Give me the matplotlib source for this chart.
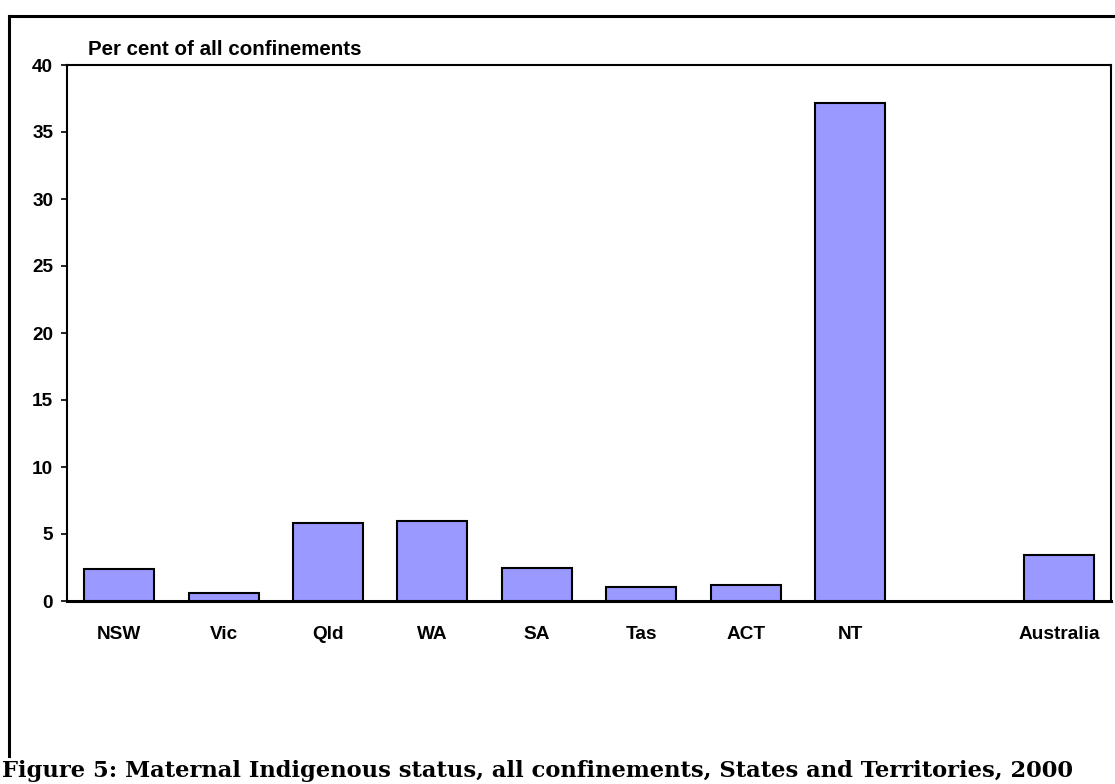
import matplotlib.pyplot as plt
import numpy as np

# Data (blank slot between NT and Australia)
states = ["NSW", "Vic", "Qld", "WA", "SA", "Tas", "ACT", "NT", "", "Australia"]
pct_indigenous = [2.4, 0.6, 5.8, 6.0, 2.5, 1.05, 1.2, 37.2, 0.0, 3.4]
y_ticks = [0, 5, 10, 15, 20, 25, 30, 35, 40]

W, H = 1115, 784
fig = plt.figure(figsize=(W / 100, H / 100), dpi=100)

# Axes placement in pixels
left, right, top, bottom = 67, 1111, 65, 601
ax = fig.add_axes([left / W, 1 - bottom / H, (right - left) / W, (bottom - top) / H])

x = np.arange(len(states))
mask = [bool(s) for s in states]
ax.bar(x[mask], np.array(pct_indigenous)[mask], width=0.67, color="#9999FF",
       edgecolor="black", linewidth=1.5, zorder=3)

ax.set_xlim(-0.5, len(states) - 0.5)
ax.set_ylim(0, 40)
ax.set_yticks(y_ticks)
ax.set_xticks(x)
ax.set_xticklabels(states)

for lab in ax.get_xticklabels() + ax.get_yticklabels():
    lab.set_fontfamily("Liberation Sans")
    lab.set_fontweight("bold")
    lab.set_fontsize(13.7)

ax.tick_params(axis="x", length=0, pad=18)
ax.tick_params(axis="y", length=4, width=1.2, direction="out", pad=6)
for side in ["left", "bottom", "top", "right"]:
    ax.spines[side].set_linewidth(1.5)
ax.spines["bottom"].set_linewidth(2.2)

# y-axis title placed above the axis
fig.text(88 / W, 1 - 55 / H, "Per cent of all confinements", fontfamily="Liberation Sans",
         fontweight="bold", fontsize=14.8, va="baseline", ha="left")

# outer frame (left and top edges)
fig.add_artist(plt.Line2D([9 / W, 9 / W], [1 - 16 / H, 1 - 756 / H], color="black", linewidth=2.2))
fig.add_artist(plt.Line2D([9 / W, 1.0], [1 - 16 / H, 1 - 16 / H], color="black", linewidth=2.2))

# caption
fig.text(2 / W, 1 - 777 / H, "Figure 5: Maternal Indigenous status, all confinements, States and Territories, 2000",
         fontfamily="DejaVu Serif", fontweight="bold", fontsize=16.3, va="baseline", ha="left")

fig.savefig("out.png", dpi=100, facecolor="white")
